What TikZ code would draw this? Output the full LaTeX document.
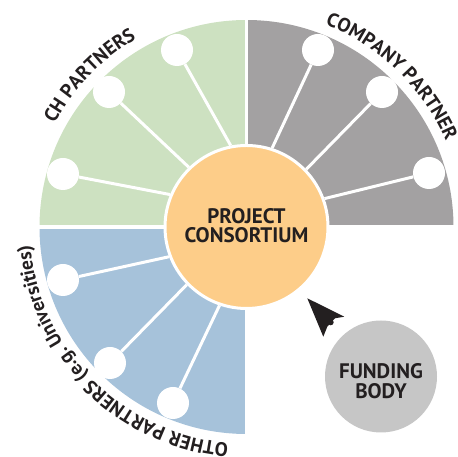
\documentclass[tikz,border=0pt]{standalone}
\usepackage{fontspec}
\setmainfont{PT Sans}
\usetikzlibrary{decorations.text}
\definecolor{chgreen}{HTML}{CDE1C1}
\definecolor{cogrey}{HTML}{A3A1A2}
\definecolor{otblue}{HTML}{A6C2DA}
\definecolor{hubor}{HTML}{FDCD89}
\definecolor{fundgrey}{HTML}{C6C6C6}
\definecolor{textdark}{HTML}{231F20}
\tikzset{
  member/.style={circle, fill=white, minimum size=32pt, inner sep=0pt},
  link/.style={white, line width=3pt},
  gap/.style={white, line width=3.5pt},
  hub/.style={circle, fill=hubor, draw=white, line width=3pt, minimum size=163pt, inner sep=0pt},
  hubtext/.style={align=center, inner sep=0pt, text=textdark, font=\bfseries\fontsize{21}{19.5}\selectfont},
  fund/.style={circle, fill=fundgrey, minimum size=112pt, inner sep=0pt},
  fundtext/.style={align=center, inner sep=0pt, text=textdark, font=\bfseries\fontsize{21}{19.7}\selectfont},
  arclabel/.style={decorate, decoration={text along path, text align=center, text={#1}}}
}
\begin{document}
\begin{tikzpicture}[x=1pt,y=1pt]
\useasboundingbox (0,0) rectangle (458,457);
\coordinate (O) at (246.5,230);
% quadrants
\fill[chgreen] (O) -- ++(180:207) arc[start angle=180,end angle=90,radius=207] -- cycle;
\fill[cogrey] (O) -- ++(90:207) arc[start angle=90,end angle=0,radius=207] -- cycle;
\fill[otblue] (O) -- ++(270:207) arc[start angle=270,end angle=180,radius=207] -- cycle;
\draw[gap] (34,230) -- (458,230);
\draw[gap] (246.5,18) -- (246.5,440);
% hub
\node[hub] (pc) at (O) {};
\node[hubtext] (pct) at ([yshift=1.5pt]pc.center) {PROJECT\\CONSORTIUM};
% members
\node[member] (c1) at (177,407) {};
\node[member] (c2) at (109,365) {};
\node[member] (c3) at (63,283) {};
\node[member] (c4) at (318,407) {};
\node[member] (c5) at (382,365) {};
\node[member] (c6) at (429,284) {};
\node[member] (c7) at (63,177) {};
\node[member] (c8) at (110,94) {};
\node[member] (c9) at (173,54) {};
\draw[link] (c1) -- (pc.101.5);
\draw[link] (c2) -- (pc.134.8);
\draw[link] (c3) -- (pc.157.9);
\draw[link] (c4) -- (pc.72.7);
\draw[link] (c5) -- (pc.44.8);
\draw[link] (c6) -- (pc.20);
\draw[link] (c7) -- (pc.201.5);
\draw[link] (c8) -- (pc.224.3);
\draw[link] (c9) -- (pc.251.5);
% funding body
\node[fund] (fb) at (381,80.5) {};
\node[fundtext] (fbt) at ([yshift=-4.5pt]fb.center) {FUNDING\\BODY};
% arrow head
\coordinate (tip) at (307.3,158.7);
\coordinate (rw) at (344.3,140.3);
\coordinate (n1) at (335,138.7);
\coordinate (n2) at (327.3,130.3);
\coordinate (lw) at (323.3,120.3);
\coordinate (blob) at (330.7,134.7);
\fill[textdark] (tip) -- (rw) -- (n1) -- (n2) -- (lw) -- cycle;
\fill[textdark] (blob) circle (3);
% curved labels
\path[arclabel={|\color{textdark}\bfseries\fontsize{19.5}{22}\selectfont|CH PARTNERS}]
  (O) ++(176:218) arc[start angle=176,end angle=96,radius=218];
\path[arclabel={|\color{textdark}\bfseries\fontsize{19.5}{22}\selectfont|COMPANY PARTNER}]
  (O) ++(86:217) arc[start angle=86,end angle=6,radius=217];
\path[arclabel={|\color{textdark}\bfseries\fontsize{19.5}{22}\selectfont|OTHER PARTNERS (e.g. Universities)}]
  (O) ++(283:217) arc[start angle=283,end angle=167,radius=217];
\end{tikzpicture}
\end{document}
